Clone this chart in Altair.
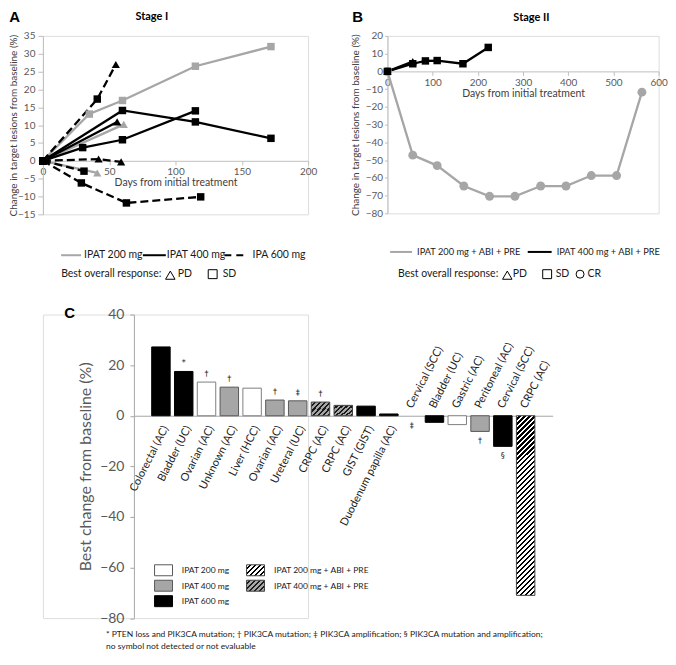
import altair as alt
import pandas as pd

# ---------------- Panel A (Stage I) data ----------------
a_patient = [1, 1, 1, 1, 1, 2, 2, 3, 3, 4, 4, 4, 4, 5, 5, 5, 5, 6, 6,
             7, 7, 7, 8, 8, 8, 9, 9, 10, 10, 10, 10]
a_group = ["IPAT 200 mg"] * 9 + ["IPAT 400 mg"] * 10 + ["IPA 600 mg"] * 12
a_day = [0, 35, 60, 115, 172, 0, 61, 0, 41, 0, 60, 115, 172, 0, 30, 60, 115, 0, 56,
         0, 41, 55, 0, 42, 59, 0, 31, 0, 29, 63, 119]
a_change = [0, 13.1, 16.9, 26.5, 32.0, 0, 10.2, 0, -3.4, 0, 14.1, 10.9, 6.3, 0, 3.7, 5.9, 14.0, 0, 10.9,
            0, 17.3, 27.0, 0, 0.5, -0.3, 0, -2.9, 0, -6.2, -11.8, -10.1]
a_response = ["SD", "SD", "SD", "SD", "SD", "SD", "PD", "SD", "PD", "SD", "SD", "SD", "SD",
              "SD", "SD", "SD", "SD", "SD", "PD", "SD", "SD", "PD", "SD", "PD", "PD",
              "SD", "SD", "SD", "SD", "SD", "SD"]
a_legend = ["IPAT 200 mg", "IPAT 400 mg", "IPA 600 mg"]

# ---------------- Panel B (Stage II) data ----------------
b_patient = [1] * 11 + [2] * 2 + [3] * 6
b_group = ["IPAT 200 mg + ABI + PRE"] * 11 + ["IPAT 400 mg + ABI + PRE"] * 8
b_day = [0, 56, 110, 169, 226, 282, 339, 395, 451, 507, 563, 0, 56, 0, 56, 84, 110, 167, 223]
b_change = [0, -47.2, -53.1, -64.6, -70.4, -70.4, -64.6, -64.6, -58.7, -58.7, -11.7,
            0, 5.5, 0, 4.3, 5.9, 6.1, 4.3, 13.5]
b_response = ["CR"] * 11 + ["PD", "PD"] + ["SD"] * 6
b_legend = ["IPAT 200 mg + ABI + PRE", "IPAT 400 mg + ABI + PRE"]

# ---------------- Panel C (waterfall) data ----------------
c_labels = ["Colorectal (AC)", "Bladder (UC)", "Ovarian (AC)", "Unknown (AC)", "Liver (HCC)",
            "Ovarian (AC)", "Ureteral (UC)", "CRPC (AC)", "CRPC (AC)", "GIST (GIST)",
            "Duodenum papilla (AC)", "Cervical (SCC)", "Bladder (UC)", "Gastric (AC)",
            "Peritoneal (AC)", "Cervical (SCC)", "CRPC (AC)"]
c_values = [27.2, 17.5, 13.3, 11.3, 10.9, 6.2, 5.9, 5.4, 4.1, 3.8, 0.7, 0.0,
            -2.6, -3.5, -6.2, -12.1, -71.0]
c_groups = ["IPAT 600 mg", "IPAT 600 mg", "IPAT 200 mg", "IPAT 400 mg", "IPAT 200 mg",
            "IPAT 400 mg", "IPAT 400 mg", "IPAT 400 mg + ABI + PRE", "IPAT 400 mg + ABI + PRE",
            "IPAT 600 mg", "IPAT 600 mg", "IPAT 600 mg", "IPAT 600 mg", "IPAT 200 mg",
            "IPAT 400 mg", "IPAT 600 mg", "IPAT 200 mg + ABI + PRE"]
c_symbols = ["", "*", "†", "†", "", "†", "‡", "†", "", "", "", "‡", "", "", "†", "§", ""]
c_legend = ["IPAT 200 mg", "IPAT 400 mg", "IPAT 600 mg",
            "IPAT 200 mg + ABI + PRE", "IPAT 400 mg + ABI + PRE"]
footnote = ["* PTEN loss and PIK3CA mutation;  † PIK3CA mutation; ‡ PIK3CA amplification; "
            "§ PIK3CA mutation and amplification;",
            "no symbol not detected or not evaluable"]

# ---------------- styles ----------------
FONT = "Lato"
BFONT = "Liberation Sans"
SFONT = "DejaVu Sans"
LBL = "#595959"
TTL = "#404040"
AXC = "#bfbfbf"
GRAY = "#a6a6a6"
INK = "#1a1a1a"

one = pd.DataFrame({"k": [0]})


def txt(s, x, y, size=10.5, align="left", baseline="middle", weight="normal",
        font=FONT, color=INK):
    return alt.Chart(one).mark_text(text=s, align=align, baseline=baseline, fontSize=size,
                                    fontWeight=weight, font=font, color=color).encode(
        x=alt.value(x), y=alt.value(y))


def hline(x1, x2, y, color, width=2.0, dash=None):
    kw = dict(color=color, strokeWidth=width)
    if dash:
        kw["strokeDash"] = dash
    return alt.Chart(one).mark_rule(**kw).encode(x=alt.value(x1), x2=alt.value(x2), y=alt.value(y))


def sym(x, y, shape, size):
    return alt.Chart(one).mark_point(shape=shape, size=size, filled=False, color="#000000",
                                     strokeWidth=1, opacity=1).encode(x=alt.value(x), y=alt.value(y))


def box(x, y, fill, stroke, w=18, h=11):
    return alt.Chart(one).mark_rect(fill=fill, stroke=stroke, strokeWidth=1).encode(
        x=alt.value(x), x2=alt.value(x + w), y=alt.value(y - h / 2), y2=alt.value(y + h / 2))


def hatch(w, h, period, frac, bg, fg):
    s = w + h
    den = w * w + h * h
    p = period / s
    stops = []
    t = 0.0
    while t < 1.0:
        b = min(t + p * (1 - frac), 1.0)
        c = min(t + p, 1.0)
        stops += [{"offset": round(t, 5), "color": bg}, {"offset": round(b, 5), "color": bg},
                  {"offset": round(b, 5), "color": fg}, {"offset": round(c, 5), "color": fg}]
        t += p
    return {"gradient": "linear", "x1": 0, "y1": 0, "x2": w * s / den, "y2": h * s / den,
            "stops": stops}


shape_sc = alt.Scale(domain=["SD", "PD", "CR"], range=["square", "triangle-up", "circle"])
size_sc = alt.Scale(domain=["SD", "PD", "CR"], range=[56, 80, 44])
all_groups = a_legend + b_legend
col_sc = alt.Scale(domain=all_groups, range=[GRAY, "#000000", "#000000", GRAY, "#000000"])

xaxis_common = dict(domainColor=AXC, tickColor=AXC, tickSize=4, labelColor=LBL, labelFontSize=10,
                    labelFont=FONT, titleFont=FONT, titleFontSize=10.5, titleFontWeight="normal",
                    titleColor=TTL, labelFlush=False, labelPadding=2, titlePadding=1, grid=False)


def yaxis(values, title, height, tx, tick, pad):
    return alt.Axis(values=values, title=title, domainColor=AXC, tickColor=AXC, tickSize=tick,
                    labelColor=LBL, labelFontSize=10, labelFont=FONT, labelPadding=pad,
                    titleFont=FONT, titleFontSize=10, titleFontWeight="normal", titleColor=TTL,
                    titleX=tx, titleY=height / 2, titleAngle=270, titleAlign="center",
                    titleBaseline="middle", grid=False)


def line_layer(df, X, Y, grp, color, dash=None):
    kw = dict(color=color, strokeWidth=2.3)
    if dash:
        kw["strokeDash"] = dash
    return alt.Chart(df).transform_filter(alt.datum.group == grp).mark_line(**kw).encode(
        x=X, y=Y, detail="pid:N", order="seq:Q")


def point_layer(df, X, Y):
    return alt.Chart(df).mark_point(filled=True, opacity=1).encode(
        x=X, y=Y,
        shape=alt.Shape("resp:N", scale=shape_sc, legend=None),
        size=alt.Size("resp:O", scale=size_sc, legend=None),
        color=alt.Color("group:N", scale=col_sc, legend=None))


# ---------------- Panel A ----------------
WA, HA = 266, 179
dfA = pd.DataFrame({"pid": a_patient, "group": a_group, "day": a_day, "chg": a_change,
                    "resp": a_response})
dfA["seq"] = range(len(dfA))
XA = alt.X("day:Q", scale=alt.Scale(domain=[0, 200], nice=False, zero=False),
           axis=alt.Axis(values=[0, 50, 100, 150, 200], offset=-HA * 15 / 50,
                         title="Days from initial treatment", **xaxis_common))
YA = alt.Y("chg:Q", scale=alt.Scale(domain=[-15, 35], nice=False),
           axis=yaxis(list(range(-15, 36, 5)), "Change in target lesions from baseline (%)",
                      HA, -29.0, 5, 3))

A = alt.layer(
    line_layer(dfA, XA, YA, "IPAT 200 mg", GRAY),
    line_layer(dfA, XA, YA, "IPAT 400 mg", "#000000"),
    line_layer(dfA, XA, YA, "IPA 600 mg", "#000000", [8, 4]),
    point_layer(dfA, XA, YA),
    txt("A", -33.7, -26, 15, baseline="top", weight="bold", font=BFONT, color="#000000"),
    txt("Stage I", 109.3, -19, 11, align="center", weight="bold", color="#000000"),
    hline(18.3, 38.3, 220, GRAY), txt(a_legend[0], 41.3, 220),
    hline(100.3, 123.3, 220, "#000000"), txt(a_legend[1], 124.3, 220),
    hline(182, 203, 220, "#000000", dash=[7, 5]), txt(a_legend[2], 210.3, 220),
    txt("Best overall response:", 18.3, 239),
    sym(127.8, 240, "triangle-up", 90), txt("PD", 135.3, 239),
    sym(170.3, 239, "square", 80), txt("SD", 180.3, 239),
).properties(width=WA, height=HA)

# ---------------- Panel B ----------------
WB, HB = 272, 178
dfB = pd.DataFrame({"pid": b_patient, "group": b_group, "dayb": b_day, "chgb": b_change,
                    "resp": b_response})
dfB["seq"] = range(len(dfB))
XB = alt.X("dayb:Q", scale=alt.Scale(domain=[0, 600], nice=False, zero=False),
           axis=alt.Axis(values=list(range(0, 601, 100)), offset=-HB * 80 / 100,
                         title="Days from initial treatment", **xaxis_common))
YB = alt.Y("chgb:Q", scale=alt.Scale(domain=[-80, 20], nice=False),
           axis=yaxis(list(range(-80, 21, 10)), "Change in target lesions from baseline (%)",
                      HB, -32.3, 3, 2))

B = alt.layer(
    line_layer(dfB, XB, YB, b_legend[0], GRAY),
    line_layer(dfB, XB, YB, b_legend[1], "#000000"),
    point_layer(dfB, XB, YB),
    txt("B", -35.3, -26, 15, baseline="top", weight="bold", font=BFONT, color="#000000"),
    txt("Stage II", 144.4, -18, 11, align="center", weight="bold", color="#000000"),
    hline(2.7, 24.7, 216.7, GRAY), txt(b_legend[0], 29.7, 216.7, 9.3),
    hline(140.7, 164.7, 216.7, "#000000"), txt(b_legend[1], 169.7, 216.7, 9.3),
    txt("Best overall response:", 10.7, 239),
    sym(120.2, 240, "triangle-up", 90), txt("PD", 125.7, 239),
    sym(160.2, 239, "square", 80), txt("SD", 168.7, 239),
    sym(193.2, 239, "circle", 64), txt("CR", 200.7, 239),
).properties(width=WB, height=HB)

# ---------------- Panel C ----------------
CX = 91.3          # horizontal shift of panel C's plot area relative to panel A
WC, HC = 420, 304.5
dfC = pd.DataFrame({"i": list(range(len(c_labels))), "label": c_labels, "v": c_values,
                    "grp": c_groups, "sym": c_symbols})
XC = alt.X("i:O", scale=alt.Scale(paddingInner=0.19, paddingOuter=0.78, range=[CX, CX + WC]),
           axis=alt.Axis(labels=False, ticks=False, domainColor=GRAY, domainWidth=1,
                         offset=-HC * 80 / 120, title=None))
YC = alt.Y("v:Q", scale=alt.Scale(domain=[-80, 40], nice=False),
           axis=alt.Axis(values=[-80, -60, -40, -20, 0, 20, 40], title="Best change from baseline (%)",
                         offset=-CX, domainColor=GRAY, tickColor=GRAY, tickSize=4, labelColor=LBL,
                         labelFontSize=14, labelFont=FONT, labelPadding=6, titleFont=FONT,
                         titleFontSize=16, titleColor=LBL, titleFontWeight="normal",
                         titlePadding=6, grid=False))
plain = ["IPAT 200 mg", "IPAT 400 mg", "IPAT 600 mg"]
fill_sc = alt.Scale(domain=plain, range=["#ffffff", GRAY, "#000000"])
stroke_sc = alt.Scale(domain=plain, range=["#7f7f7f", "#595959", "#000000"])

bars = alt.Chart(dfC).transform_filter(
    alt.FieldOneOfPredicate(field="grp", oneOf=plain)).transform_filter("datum.v != 0").mark_bar(
    strokeWidth=1).encode(
    x=XC, y=YC,
    fill=alt.Fill("grp:N", scale=fill_sc, legend=None),
    stroke=alt.Stroke("grp:N", scale=stroke_sc, legend=None))
HATCH_L = hatch(18.5, 180.2, 5.0, 0.45, "#ffffff", "#000000")
HATCH_D = hatch(18.5, 12.0, 5.0, 0.45, GRAY, "#1a1a1a")
bars_l = alt.Chart(dfC).transform_filter(alt.datum.grp == c_legend[3]).mark_bar(
    fill=HATCH_L, stroke="#404040", strokeWidth=1).encode(x=XC, y=YC)
bars_d = alt.Chart(dfC).transform_filter(alt.datum.grp == c_legend[4]).mark_bar(
    fill=HATCH_D, stroke="#404040", strokeWidth=1).encode(x=XC, y=YC)

lab_below = alt.Chart(dfC).transform_filter("datum.v > 0").mark_text(
    angle=297, align="right", baseline="middle", fontSize=11, font=FONT, color=INK,
    xOffset=5, yOffset=11).encode(x=XC, y=alt.datum(0), text="label:N")
lab_above = alt.Chart(dfC).transform_filter("datum.v <= 0").mark_text(
    angle=297, align="left", baseline="middle", fontSize=11, font=FONT, color=INK,
    xOffset=-2, yOffset=-8).encode(x=XC, y=alt.datum(0), text="label:N")
ann_pos = alt.Chart(dfC).transform_filter("datum.sym != '' && datum.v > 0").mark_text(
    fontSize=8, font=SFONT, color=INK, baseline="middle", yOffset=-8).encode(x=XC, y=YC, text="sym:N")
ann_neg = alt.Chart(dfC).transform_filter("datum.sym != '' && datum.v <= 0").mark_text(
    fontSize=8, font=SFONT, color=INK, baseline="middle", yOffset=10).encode(x=XC, y=YC, text="sym:N")

leg_c = [
    box(CX + 20.7, 256.5, "#ffffff", "#595959"), txt(c_legend[0], CX + 48, 256.5, 8.5),
    box(CX + 20.7, 272, GRAY, "#595959"), txt(c_legend[1], CX + 48, 272, 8.5),
    box(CX + 20.7, 287.5, "#000000", "#000000"), txt(c_legend[2], CX + 48, 287.5, 8.5),
    box(CX + 113, 256.5, hatch(18, 11, 5.0, 0.45, "#ffffff", "#000000"), "#404040"),
    txt(c_legend[3], CX + 140.6, 256.5, 8.5),
    box(CX + 113, 272, hatch(18, 11, 5.0, 0.45, GRAY, "#1a1a1a"), "#404040"),
    txt(c_legend[4], CX + 140.6, 272, 8.5),
]

C = alt.layer(
    bars, bars_l, bars_d, lab_below, lab_above, ann_pos, ann_neg, *leg_c,
    txt("C", CX - 70, -8.5, 15, baseline="top", weight="bold", font=BFONT, color="#000000"),
    txt(footnote[0], CX - 28, 320, 8.5),
    txt(footnote[1], CX - 28, 332, 8.5),
).properties(width=WA, height=HC)

chart = alt.concat(
    A, B, C, columns=2, spacing={"row": 100.5, "column": 79.6}, bounds="flush"
).resolve_scale(
    x="independent", y="independent", color="independent", shape="independent",
    size="independent", fill="independent", stroke="independent"
).configure_view(stroke=None).configure(font=FONT).properties(padding=0)

chart.save("out.html", embed_options={"renderer": "svg", "actions": False})
